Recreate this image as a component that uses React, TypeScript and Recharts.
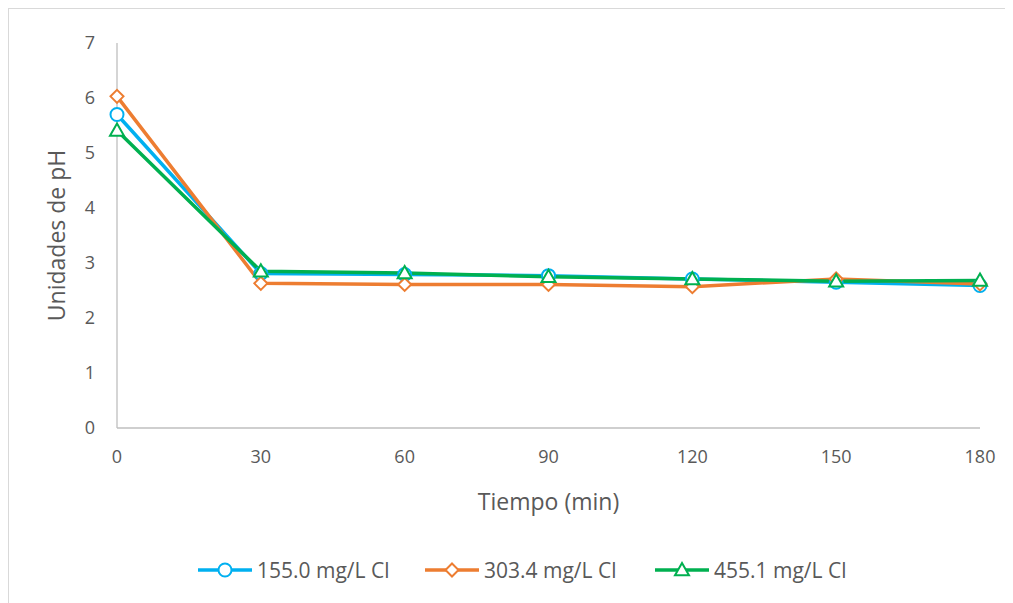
import React from "react";
import { LineChart, Line, XAxis, YAxis } from "recharts";

// pH vs tiempo para tres concentraciones de cloruro

const tiempos = [0, 30, 60, 90, 120, 150, 180];
const yTicks = [0, 1, 2, 3, 4, 5, 6, 7];

const serie155 = [5.7, 2.81, 2.79, 2.77, 2.71, 2.65, 2.59];
const serie303 = [6.03, 2.63, 2.61, 2.61, 2.57, 2.71, 2.62];
const serie455 = [5.41, 2.85, 2.82, 2.75, 2.71, 2.67, 2.68];

const nombres = ["155.0 mg/L Cl", "303.4 mg/L Cl", "455.1 mg/L Cl"];
const colores = ["#00B0F0", "#ED7D31", "#00B050"];

const data = tiempos.map((t, i) => ({
  t,
  a: serie155[i],
  b: serie303[i],
  c: serie455[i],
}));

const FONT = "'Open Sans', 'Noto Sans', sans-serif";
const TEXT = "#595959";

type Shape = "circle" | "diamond" | "triangle";

function marker(shape: Shape, cx: number, cy: number, color: string, key?: string) {
  if (shape === "circle") {
    return <circle key={key} cx={cx} cy={cy} r={6.5} fill="#fff" stroke={color} strokeWidth={2} />;
  }
  if (shape === "diamond") {
    const s = 6.5;
    return (
      <path
        key={key}
        d={`M${cx},${cy - s}L${cx + s},${cy}L${cx},${cy + s}L${cx - s},${cy}Z`}
        fill="#fff"
        stroke={color}
        strokeWidth={2}
      />
    );
  }
  const s = 7;
  return (
    <path
      key={key}
      d={`M${cx},${cy - s}L${cx + s},${cy + s * 0.75}L${cx - s},${cy + s * 0.75}Z`}
      fill="#fff"
      stroke={color}
      strokeWidth={2}
    />
  );
}

const shapes: Shape[] = ["circle", "diamond", "triangle"];

function makeDot(shape: Shape, color: string) {
  return (p: any) => marker(shape, p.cx, p.cy, color, `${shape}-${p.index}`);
}

function Leyenda() {
  const lefts = [189, 416, 646];
  const w = 54;
  return (
    <>
      {nombres.map((n, i) => (
        <div
          key={n}
          style={{
            position: "absolute",
            left: lefts[i],
            top: 548,
            height: 26,
            display: "flex",
            alignItems: "center",
            fontFamily: FONT,
            fontSize: 21,
            color: TEXT,
            whiteSpace: "nowrap",
          }}
        >
          <svg width={w} height={20} style={{ marginRight: 5 }}>
            <line x1={0} y1={10} x2={w} y2={10} stroke={colores[i]} strokeWidth={3.5} />
            {marker(shapes[i], w / 2, 10, colores[i])}
          </svg>
          {n}
        </div>
      ))}
    </>
  );
}

export default function App() {
  return (
    <div
      style={{
        position: "relative",
        width: 1010,
        height: 600,
        border: "1px solid #D9D9D9",
        boxSizing: "border-box",
        background: "#fff",
      }}
    >
      <LineChart
        width={1004}
        height={594}
        data={data}
        margin={{ top: 34, right: 33, left: 0, bottom: 80 }}
      >
        <XAxis
          dataKey="t"
          type="number"
          domain={[0, 180]}
          ticks={tiempos}
          tickLine={false}
          tickSize={0}
          tickMargin={22}
          height={95}
          axisLine={{ stroke: "#BFBFBF", strokeWidth: 1.3 }}
          tick={{ fill: TEXT, fontSize: 18, fontFamily: FONT }}
          label={{
            value: "Tiempo (min)",
            position: "insideBottom",
            offset: 13,
            fill: TEXT,
            fontSize: 23,
            fontFamily: FONT,
          }}
        />
        <YAxis
          type="number"
          domain={[0, 7]}
          ticks={yTicks}
          width={108}
          tickLine={false}
          tickSize={0}
          tickMargin={22}
          axisLine={{ stroke: "#BFBFBF", strokeWidth: 1.3 }}
          tick={{ fill: TEXT, fontSize: 18, fontFamily: FONT }}
          label={{
            value: "Unidades de pH",
            angle: -90,
            position: "center",
            dx: -6,
            fill: TEXT,
            fontSize: 23,
            fontFamily: FONT,
          }}
        />
        <Line
          dataKey="a"
          stroke={colores[0]}
          strokeWidth={3.5}
          dot={makeDot("circle", colores[0])}
          isAnimationActive={false}
        />
        <Line
          dataKey="b"
          stroke={colores[1]}
          strokeWidth={3.5}
          dot={makeDot("diamond", colores[1])}
          isAnimationActive={false}
        />
        <Line
          dataKey="c"
          stroke={colores[2]}
          strokeWidth={3.5}
          dot={makeDot("triangle", colores[2])}
          isAnimationActive={false}
        />
      </LineChart>
      <Leyenda />
    </div>
  );
}
